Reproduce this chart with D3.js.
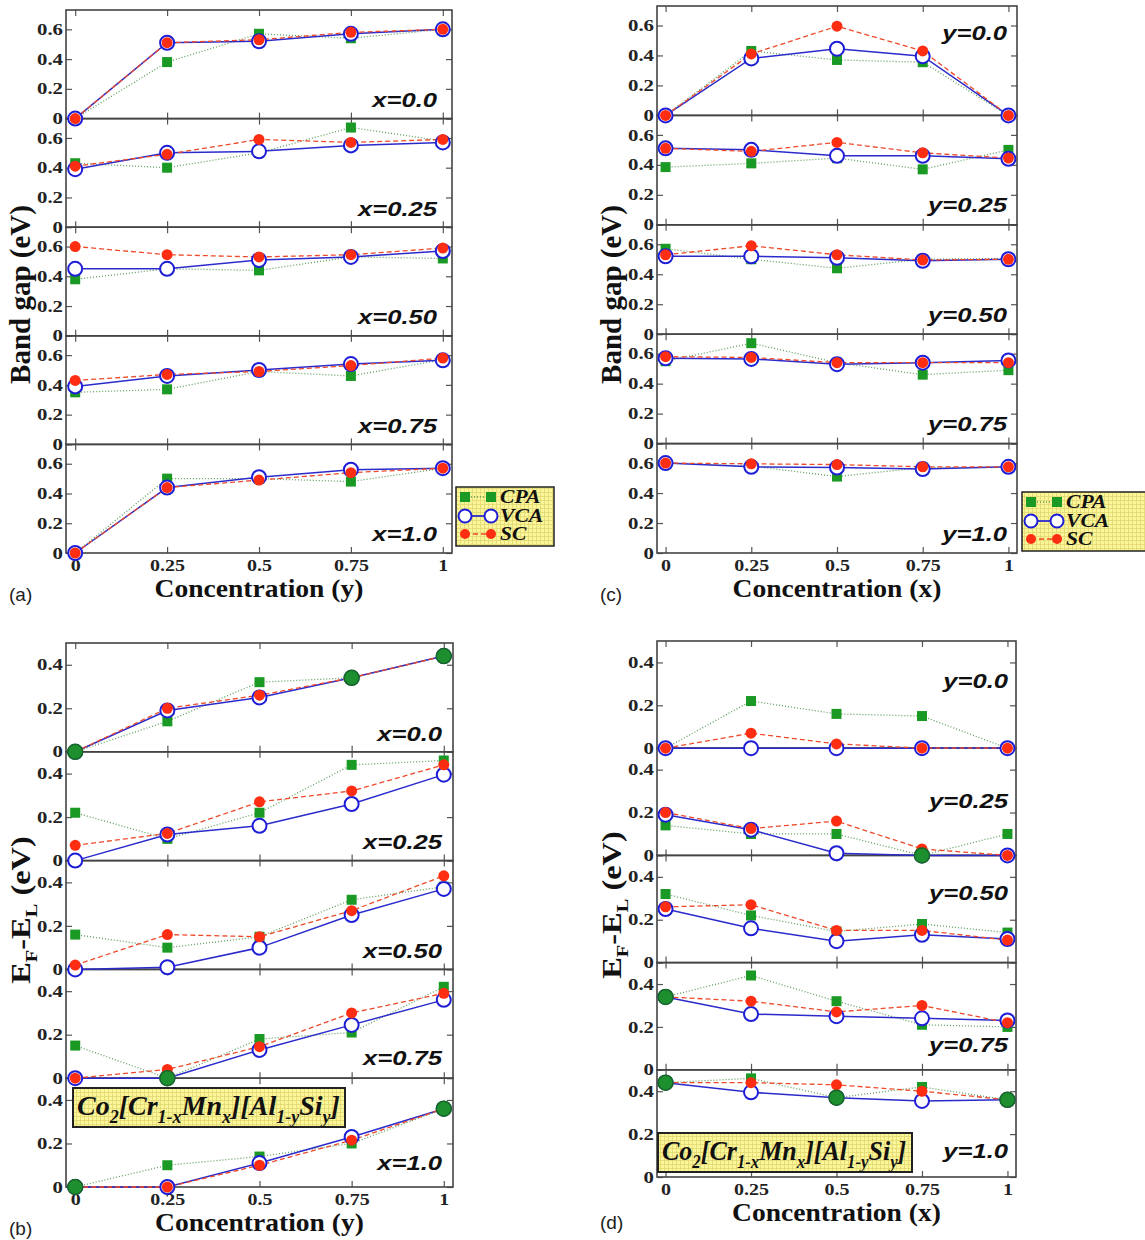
<!DOCTYPE html>
<html>
<head>
<meta charset="utf-8">
<script src="https://cdn.jsdelivr.net/npm/d3@7"></script>
<style>
body { margin: 0; background: #fff; }
</style>
</head>
<body>
<script>
var width = 1145,
    height = 1240;

// concentrations on the x axis
var conc = [0, 0.25, 0.5, 0.75, 1];
var concLabels = ["0", "0.25", "0.5", "0.75", "1"];
var gapTicks = [0, 0.2, 0.4, 0.6];
var gapTickLabels = ["0", "0.2", "0.4", "0.6"];
var efTicks = [0, 0.2, 0.4];
var efTickLabels = ["0", "0.2", "0.4"];
var xLabels = ["x=0.0", "x=0.25", "x=0.50", "x=0.75", "x=1.0"];
var yLabels = ["y=0.0", "y=0.25", "y=0.50", "y=0.75", "y=1.0"];
var methods = ["CPA", "VCA", "SC"];

// (a) band gap vs y, one row per x
var gapA_CPA = [[0, 0.38, 0.57, 0.54, 0.60], [0.43, 0.40, 0.50, 0.67, 0.58], [0.38, 0.45, 0.44, 0.53, 0.52], [0.35, 0.37, 0.49, 0.46, 0.57], [0, 0.50, 0.50, 0.48, 0.57]];
var gapA_VCA = [[0, 0.51, 0.52, 0.57, 0.60], [0.39, 0.50, 0.51, 0.55, 0.57], [0.45, 0.45, 0.51, 0.53, 0.57], [0.39, 0.46, 0.50, 0.54, 0.565], [0, 0.44, 0.51, 0.56, 0.57]];
var gapA_SC  = [[0, 0.51, 0.53, 0.58, 0.60], [0.41, 0.49, 0.59, 0.57, 0.59], [0.60, 0.545, 0.53, 0.545, 0.59], [0.43, 0.47, 0.49, 0.53, 0.58], [0, 0.44, 0.49, 0.54, 0.57]];

// (c) band gap vs x, one row per y
var gapC_CPA = [[0, 0.43, 0.37, 0.355, 0], [0.385, 0.41, 0.445, 0.37, 0.50], [0.57, 0.50, 0.44, 0.50, 0.505], [0.55, 0.67, 0.54, 0.46, 0.49], [0.60, 0.58, 0.51, 0.57, 0.57]];
var gapC_VCA = [[0, 0.38, 0.445, 0.395, 0], [0.51, 0.50, 0.46, 0.46, 0.44], [0.52, 0.52, 0.51, 0.49, 0.50], [0.57, 0.565, 0.53, 0.54, 0.555], [0.60, 0.575, 0.57, 0.56, 0.575]];
var gapC_SC  = [[0, 0.41, 0.595, 0.43, 0], [0.51, 0.49, 0.55, 0.48, 0.445], [0.53, 0.59, 0.53, 0.495, 0.50], [0.58, 0.575, 0.54, 0.54, 0.54], [0.60, 0.595, 0.59, 0.575, 0.575]];

// (b) EF-EL vs y, one row per x
var efB_CPA = [[0, 0.14, 0.32, 0.34, 0.44], [0.22, 0.10, 0.22, 0.44, 0.46], [0.16, 0.10, 0.15, 0.32, 0.38], [0.15, 0, 0.18, 0.21, 0.42], [0, 0.10, 0.14, 0.20, 0.36]];
var efB_VCA = [[0, 0.19, 0.25, 0.34, 0.44], [0, 0.12, 0.16, 0.26, 0.395], [0, 0.01, 0.10, 0.25, 0.37], [0, 0, 0.13, 0.245, 0.36], [0, 0, 0.11, 0.23, 0.36]];
var efB_SC  = [[0, 0.20, 0.26, 0.34, 0.44], [0.07, 0.125, 0.27, 0.32, 0.44], [0.02, 0.16, 0.15, 0.27, 0.43], [0, 0.04, 0.145, 0.30, 0.39], [0, 0, 0.10, 0.215, 0.36]];

// (d) EF-EL vs x, one row per y
var efD_CPA = [[0, 0.22, 0.16, 0.15, 0], [0.14, 0.10, 0.10, 0, 0.10], [0.32, 0.22, 0.145, 0.18, 0.14], [0.34, 0.44, 0.32, 0.21, 0.20], [0.44, 0.46, 0.37, 0.42, 0.36]];
var efD_VCA = [[0, 0, 0, 0, 0], [0.19, 0.12, 0.01, 0, 0], [0.25, 0.16, 0.10, 0.13, 0.11], [0.34, 0.26, 0.25, 0.24, 0.23], [0.44, 0.395, 0.37, 0.355, 0.36]];
var efD_SC  = [[0, 0.07, 0.02, 0, 0], [0.20, 0.125, 0.16, 0.03, 0], [0.26, 0.27, 0.15, 0.15, 0.105], [0.34, 0.32, 0.27, 0.30, 0.22], [0.44, 0.44, 0.43, 0.40, 0.36]];

var serif = "'Liberation Serif', 'Times New Roman', serif";
var sans = "'Liberation Sans', Arial, sans-serif";
var SX = 1.3;   // the figure's text is stretched sideways

var col = {
    CPA: { mark: "#1a9a24", line: "#5f9f5f", dash: "1,2", w: 1.3 },
    VCA: { mark: "#1e1ed6", line: "#2b2bcc", dash: null, w: 1.5 },
    SC:  { mark: "#ff2d12", line: "#ee4a2a", dash: "5,3", w: 1.3 }
};

var svg = d3.select("body").append("svg")
    .attr("width", width)
    .attr("height", height);

var defs = svg.append("defs");
var pat = defs.append("pattern").attr("id", "grid")
    .attr("width", 4).attr("height", 4)
    .attr("patternUnits", "userSpaceOnUse");
pat.append("rect").attr("width", 4).attr("height", 4).attr("fill", "#fbf69a");
pat.append("path").attr("d", "M0,0.5H4M0.5,0V4")
    .attr("stroke", "#e2d872").attr("stroke-width", 0.8);

var panels = [
    { left: 66, right: 452, top: 10, bottom: 553, ymax: 0.73, ticks: gapTicks, tickLabels: gapTickLabels,
      data: { CPA: gapA_CPA, VCA: gapA_VCA, SC: gapA_SC }, labels: xLabels, merge: false,
      labelOff: [97, 97, 97, 97, 97], labelRight: 15, letter: "(a)", letterY: 601,
      xtitle: "Concentration (y)", ytitle: "gap", ytitleDy: 13, legend: { x: 456, y: 487, w: 98 } },
    { left: 657, right: 1017, top: 6, bottom: 553, ymax: 0.73, ticks: gapTicks, tickLabels: gapTickLabels,
      data: { CPA: gapC_CPA, VCA: gapC_VCA, SC: gapC_SC }, labels: yLabels, merge: false,
      labelOff: [34, 97, 97, 97, 97], labelRight: 10, letter: "(c)", letterY: 601,
      xtitle: "Concentration (x)", ytitle: "gap", ytitleDy: 15, legend: { x: 1022, y: 492, w: 130 } },
    { left: 66, right: 453, top: 643, bottom: 1187, ymax: 0.5, ticks: efTicks, tickLabels: efTickLabels,
      data: { CPA: efB_CPA, VCA: efB_VCA, SC: efB_SC }, labels: xLabels, merge: true,
      labelOff: [98, 97, 97, 96, 92], labelRight: 11, letter: "(b)", letterY: 1235,
      xtitle: "Concentration (y)", ytitle: "ef", ytitleDy: -5, formula: { x: 73, y: 1088, w: 272, sx: 1.0 } },
    { left: 657, right: 1016, top: 641, bottom: 1177, ymax: 0.5, ticks: efTicks, tickLabels: efTickLabels,
      data: { CPA: efD_CPA, VCA: efD_VCA, SC: efD_SC }, labels: yLabels, merge: true,
      labelOff: [47, 60, 45, 89, 88], labelRight: 8, letter: "(d)", letterY: 1229,
      xtitle: "Concentration (x)", ytitle: "ef", ytitleDy: -4, formula: { x: 658, y: 1133, w: 254, sx: 0.93 } }
];

panels.forEach(drawPanel);

function stretch(sel, x, y, sx) {
    return sel.attr("transform", "translate(" + x + "," + y + ") scale(" + sx + ",1)");
}

function drawPanel(p) {
    var g = svg.append("g");
    var n = 5;
    var h = (p.bottom - p.top) / n;
    var x = d3.scaleLinear().domain([-0.025, 1.025]).range([p.left, p.right]);

    var frames = g.append("g");
    var marks = g.append("g");

    for (var i = 0; i < n; i++) {
        var top = p.top + i * h, bot = top + h;
        var y = d3.scaleLinear().domain([0, p.ymax]).range([bot, top]);
        var f = frames.append("g");

        // inward ticks on all four sides
        var left = f.append("g").attr("transform", "translate(" + p.left + ",0)")
            .call(d3.axisLeft(y).tickValues(p.ticks).tickSize(-6).tickSizeOuter(0)
                .tickFormat(function(d, k) { return p.tickLabels[k]; }));
        left.selectAll("text").attr("x", 0)
            .attr("transform", "translate(-3,0) scale(" + SX + ",1)")
            .style("font", "bold 16px " + serif).attr("fill", "#222");
        f.append("g").attr("transform", "translate(" + p.right + ",0)")
            .call(d3.axisRight(y).tickValues(p.ticks).tickSize(-6).tickSizeOuter(0).tickFormat(""));
        f.append("g").attr("transform", "translate(0," + top + ")")
            .call(d3.axisTop(x).tickValues(conc).tickSize(-6).tickSizeOuter(0).tickFormat(""));
        var bx = f.append("g").attr("transform", "translate(0," + bot + ")")
            .call(d3.axisBottom(x).tickValues(conc).tickSize(-6).tickSizeOuter(0)
                .tickFormat(i === n - 1 ? function(d, k) { return concLabels[k]; } : ""));
        bx.selectAll("text").attr("y", 0).attr("dy", null)
            .attr("transform", "translate(0,18) scale(1.25,1)")
            .style("font", "bold 16px " + serif).attr("fill", "#222");
        f.selectAll(".domain").remove();
        f.selectAll(".tick line").attr("stroke", "#555").attr("stroke-width", 1.2);

        f.append("rect")
            .attr("x", p.left).attr("y", top)
            .attr("width", p.right - p.left).attr("height", h)
            .attr("fill", "none").attr("stroke", "#444").attr("stroke-width", 1.6);

        // sub-panel label
        stretch(f.append("text"), p.right - p.labelRight, top + p.labelOff[i], 1.22)
            .attr("text-anchor", "end")
            .style("font", "italic bold 21px " + sans)
            .attr("fill", "#111")
            .text(p.labels[i]);

        // curves
        var line = d3.line().x(function(d, k) { return x(conc[k]); }).y(function(d) { return y(d); });
        methods.forEach(function(m) {
            marks.append("path")
                .attr("d", line(p.data[m][i]))
                .attr("fill", "none")
                .attr("stroke", col[m].line)
                .attr("stroke-width", col[m].w)
                .attr("stroke-dasharray", col[m].dash);
        });
        var cpa = p.data.CPA[i], vca = p.data.VCA[i];
        marks.selectAll(null).data(cpa).enter().append("rect")
            .attr("x", function(d, k) { return x(conc[k]) - 5; })
            .attr("y", function(d) { return y(d) - 5; })
            .attr("width", 10).attr("height", 10)
            .attr("fill", col.CPA.mark);
        marks.selectAll(null).data(vca).enter().append("circle")
            .attr("cx", function(d, k) { return x(conc[k]); })
            .attr("cy", function(d) { return y(d); })
            .attr("r", 7).attr("fill", "#fff")
            .attr("stroke", col.VCA.mark).attr("stroke-width", 2);
        marks.selectAll(null).data(p.data.SC[i]).enter().append("circle")
            .attr("cx", function(d, k) { return x(conc[k]); })
            .attr("cy", function(d) { return y(d); })
            .attr("r", 5.5).attr("fill", col.SC.mark);
        // where CPA and VCA coincide the EF panels show a solid green disc
        if (p.merge) {
            marks.selectAll(null).data(cpa.map(function(d, k) { return { v: d, k: k }; })
                    .filter(function(o) { return o.v === vca[o.k] && !(i === 0 && d3.max(vca) === 0); }))
                .enter().append("circle")
                .attr("cx", function(o) { return x(conc[o.k]); })
                .attr("cy", function(o) { return y(o.v); })
                .attr("r", 7.5).attr("fill", "#1e8f2e")
                .attr("stroke", "#17662a").attr("stroke-width", 1.5);
        }
    }

    var cx = (p.left + p.right) / 2, cy = (p.top + p.bottom) / 2;

    stretch(g.append("text"), cx, p.bottom + 44, 1.06)
        .attr("text-anchor", "middle")
        .style("font", "bold 26px " + serif)
        .attr("fill", "#111")
        .text(p.xtitle);

    var yt = g.append("text")
        .attr("text-anchor", "middle")
        .attr("fill", "#111");
    if (p.ytitle === "gap") {
        yt.attr("transform", "translate(" + (p.left - 36) + "," + (cy + p.ytitleDy) + ") rotate(-90)")
            .style("font", "bold 29px " + serif).text("Band gap (eV)");
    } else {
        yt.attr("transform", "translate(" + (p.left - 36) + "," + (cy + p.ytitleDy) + ") rotate(-90) scale(1.2,1)")
            .style("font", "bold 27px " + serif);
        yt.append("tspan").text("E");
        yt.append("tspan").attr("dy", 7).style("font-size", "17px").text("F");
        yt.append("tspan").attr("dy", -7).text("-E");
        yt.append("tspan").attr("dy", 7).style("font-size", "17px").text("L");
        yt.append("tspan").attr("dy", -7).text(" (eV)");
    }

    g.append("text")
        .attr("x", p.left - 57).attr("y", p.letterY)
        .style("font", "19px " + sans)
        .attr("fill", "#222")
        .text(p.letter);

    if (p.legend) drawLegend(g, p.legend);
    if (p.formula) drawFormula(g, p.formula);
}

function drawLegend(g, L) {
    g.append("rect")
        .attr("x", L.x).attr("y", L.y).attr("width", L.w).attr("height", 59)
        .attr("fill", "url(#grid)").attr("stroke", "#222").attr("stroke-width", 1.5);
    var rows = [10, 29, 47];
    methods.forEach(function(m, k) {
        var yy = L.y + rows[k], x1 = L.x + 9, x2 = L.x + 35;
        g.append("line").attr("x1", x1).attr("x2", x2).attr("y1", yy).attr("y2", yy)
            .attr("stroke", col[m].line).attr("stroke-width", col[m].w + 0.3)
            .attr("stroke-dasharray", col[m].dash);
        [x1, x2].forEach(function(xx) {
            if (m === "CPA") {
                g.append("rect").attr("x", xx - 5).attr("y", yy - 5).attr("width", 10).attr("height", 10)
                    .attr("fill", col.CPA.mark);
            } else if (m === "VCA") {
                g.append("circle").attr("cx", xx).attr("cy", yy).attr("r", 6.5)
                    .attr("fill", "#fff").attr("stroke", col.VCA.mark).attr("stroke-width", 2);
            } else {
                g.append("circle").attr("cx", xx).attr("cy", yy).attr("r", 5).attr("fill", col.SC.mark);
            }
        });
        stretch(g.append("text"), L.x + 44, yy + 6, 1.2)
            .style("font", "italic bold 18px " + serif)
            .attr("fill", "#111")
            .text(m);
    });
}

function drawFormula(g, F) {
    g.append("rect")
        .attr("x", F.x).attr("y", F.y).attr("width", F.w).attr("height", 39)
        .attr("fill", "url(#grid)").attr("stroke", "#222").attr("stroke-width", 2);
    var t = stretch(g.append("text"), F.x + 4, F.y + 27, F.sx)
        .style("font", "italic bold 28px " + serif)
        .attr("fill", "#111");
    var parts = [["Co", 0], ["2", 1], ["[Cr", 0], ["1-x", 1], ["Mn", 0], ["x", 1], ["][Al", 0], ["1-y", 1], ["Si", 0], ["y", 1], ["]", 0]];
    var prev = 0;
    parts.forEach(function(q) {
        var s = t.append("tspan").attr("dy", (q[1] - prev) * 8).text(q[0]);
        if (q[1]) s.style("font-size", "18px");
        prev = q[1];
    });
}
</script>
</body>
</html>
